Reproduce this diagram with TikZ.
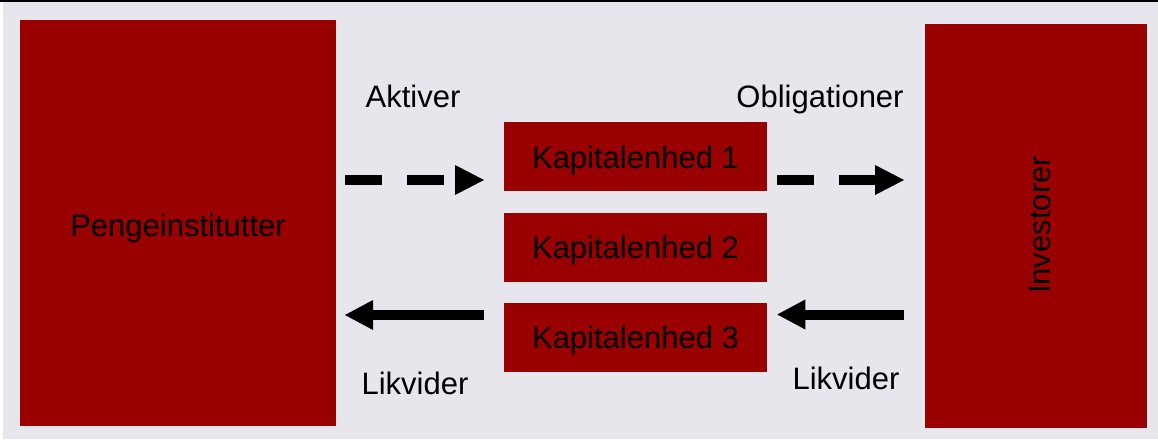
\documentclass[tikz,border=0pt]{standalone}
\usepackage{fontspec}
\setmainfont{Liberation Sans}
\usetikzlibrary{arrows.meta}
\definecolor{bg}{RGB}{231,230,237}
\definecolor{dred}{RGB}{153,0,0}
\tikzset{
  redbox/.style={fill=dred, draw=none, inner sep=0pt, text=black, font=\fontsize{31}{37}\selectfont},
  kbox/.style={redbox, minimum width=263pt, minimum height=69pt, text depth=0pt},
  boxtext/.style={inner sep=0pt, text=black, font=\fontsize{31}{37}\selectfont},
  lbl/.style={inner sep=0pt, anchor=base, text=black, font=\fontsize{31}{36}\selectfont},
  dasharrow/.style={line width=10pt, dash pattern=on 37pt off 25pt, -{Triangle[length=29pt,width=30pt,line width=0pt]}},
  solidarrow/.style={line width=10pt, -{Triangle[length=28pt,width=30pt,line width=0pt]}}
}
\begin{document}
\begin{tikzpicture}[x=1pt,y=-1pt]
\useasboundingbox (0,0) rectangle (1158,439);
\fill[white] (0,0) rectangle (1158,439);
\fill[bg] (3,2) rectangle (1158,439);
\fill[black] (0,0) rectangle (1158,2.3);
\node[redbox, minimum width=316pt, minimum height=405.6pt] (peng) at (178,222.8) {};
\node[boxtext] (pengt) at (178,228) {Pengeinstitutter};
\node[redbox, minimum width=222pt, minimum height=403.7pt] (inv) at (1036,225.85) {};
\node[boxtext, rotate=90] (invt) at (1040,225) {Investorer};
\node[kbox] (k1) at (635.5,156.85) {Kapitalenhed 1};
\node[kbox] (k2) at (635.5,247.35) {Kapitalenhed 2};
\node[kbox] (k3) at (635.5,337.35) {Kapitalenhed 3};
\node[lbl] (akt) at (413,107) {Aktiver};
\node[lbl] (obl) at (820,107) {Obligationer};
\node[lbl] (lik1) at (415,394) {Likvider};
\node[lbl] (lik2) at (846,389) {Likvider};
\coordinate (a1s) at (345,180);
\coordinate (a1e) at (484,180);
\coordinate (a2s) at (777,180);
\coordinate (a2e) at (904,180);
\coordinate (b1s) at (484,315);
\coordinate (b1e) at (345,315);
\coordinate (b2s) at (904,314.5);
\coordinate (b2e) at (777.3,314.5);
\draw[dasharrow] (a1s) -- (a1e);
\draw[dasharrow] (a2s) -- (a2e);
\draw[solidarrow] (b1s) -- (b1e);
\draw[solidarrow] (b2s) -- (b2e);
\end{tikzpicture}
\end{document}
